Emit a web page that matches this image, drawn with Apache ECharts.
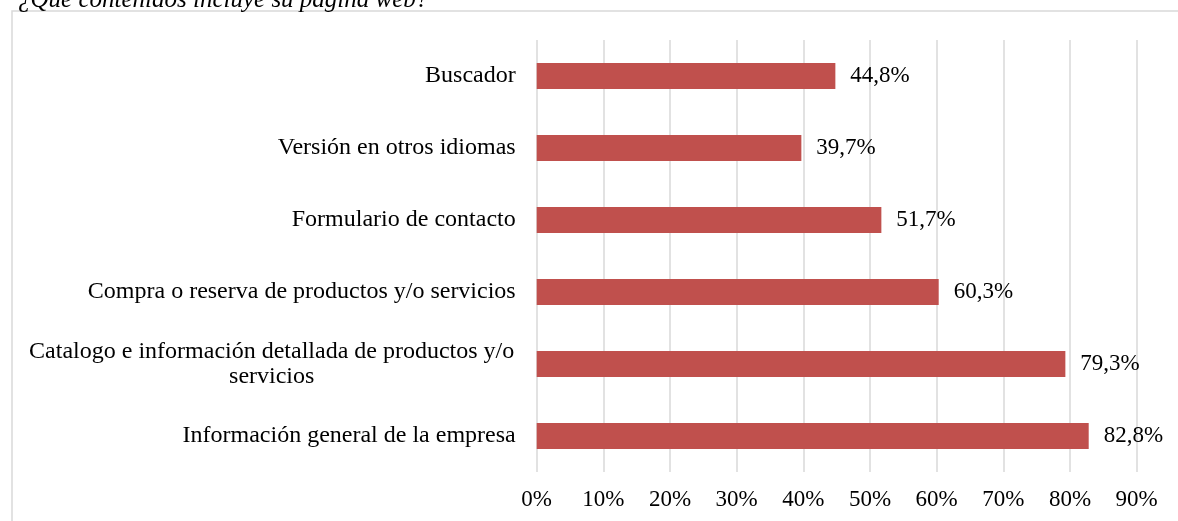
<!DOCTYPE html>
<html>
<head>
<meta charset="utf-8">
<script src="https://cdn.jsdelivr.net/npm/echarts@6/dist/echarts.min.js"></script>
<style>html,body{margin:0;padding:0;background:#fff}#c{width:1178px;height:521px}</style>
</head>
<body>
<div id="c"></div>
<script>
const titleText = '¿Qué contenidos incluye su página web?';
const categories = [
  'Información general de la empresa',
  'Catalogo e información detallada de productos y/o servicios',
  'Compra o reserva de productos y/o servicios',
  'Formulario de contacto',
  'Versión en otros idiomas',
  'Buscador'
];
const values = [82.8, 79.3, 60.3, 51.7, 39.7, 44.8];
const tickMax = 90;
const tickStep = 10;

const FONT = '"Liberation Serif", "Times New Roman", serif';
const chart = echarts.init(document.getElementById('c'));
chart.setOption({
  animation: false,
  title: {
    text: titleText,
    left: 13,
    top: -17,
    textStyle: { fontFamily: FONT, fontStyle: 'italic', fontWeight: 'normal', fontSize: 25, color: '#000' }
  },
  graphic: [{
    type: 'rect',
    shape: { x: 12, y: 11, width: 1300, height: 700 },
    style: { fill: 'none', stroke: '#d9d9d9', lineWidth: 1.5 },
    silent: true
  }],
  grid: { left: 536.7, right: 1178 - 1136.7, top: 40, bottom: 521 - 472 },
  xAxis: {
    type: 'value',
    min: 0,
    max: tickMax,
    interval: tickStep,
    axisLine: { show: false },
    axisTick: { show: false },
    splitLine: { lineStyle: { color: '#d9d9d9', width: 1.5 } },
    axisLabel: {
      formatter: v => v + '%',
      fontFamily: FONT, fontSize: 23, color: '#000', margin: 16
    }
  },
  yAxis: {
    type: 'category',
    data: categories,
    axisLine: { show: false },
    axisTick: { show: false },
    axisLabel: {
      fontFamily: FONT, fontSize: 24, color: '#000', margin: 21, lineHeight: 25,
      formatter: function (s) {
        if (s.length <= 50) return s;
        const cut = s.lastIndexOf(' ', 50);
        return '{a|' + s.slice(0, cut) + '}\n{a|' + s.slice(cut + 1) + '}';
      },
      rich: { a: { fontFamily: FONT, fontSize: 24, color: '#000', width: 488, align: 'center', lineHeight: 25 } }
    }
  },
  series: [{
    type: 'bar',
    data: values,
    barWidth: 26,
    itemStyle: { color: '#C0504D' },
    label: {
      show: true,
      position: 'right',
      distance: 15,
      formatter: p => p.value.toFixed(1).replace('.', ',') + '%',
      fontFamily: FONT, fontSize: 23, color: '#000'
    }
  }]
});
</script>
</body>
</html>
